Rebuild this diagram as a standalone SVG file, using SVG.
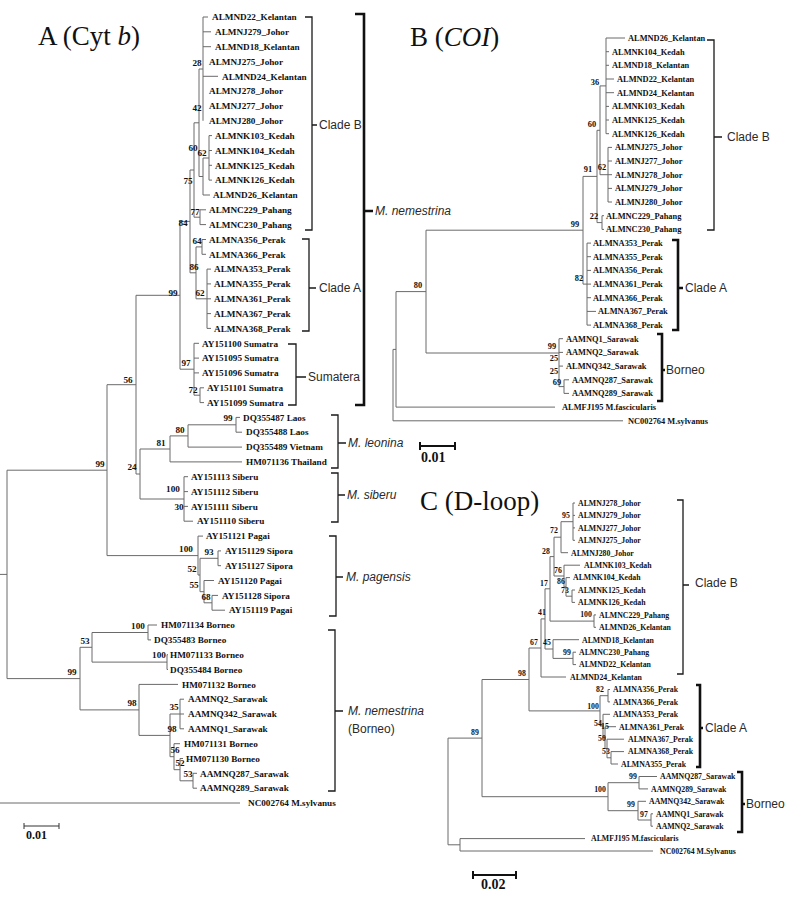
<svg xmlns="http://www.w3.org/2000/svg" width="785" height="898" viewBox="0 0 785 898">
<style>
.bg{fill:#fff}
.e{fill:none;stroke:#6a6a6a;stroke-width:1}
.br{fill:none;stroke:#1a1a1a;stroke-width:1.3}
.bk{fill:none;stroke:#111;stroke-width:2.6}
.sb{fill:none;stroke:#333;stroke-width:1}
.sbk{fill:none;stroke:#111;stroke-width:2}
text{font-family:"Liberation Serif","Times New Roman",serif;fill:#111}
.a{font-size:9.2px;font-weight:bold}
.b{font-size:8.4px;font-weight:bold}
.c{font-size:7.8px;font-weight:bold}
.n{text-anchor:middle}
.lab{font-family:"Liberation Sans",Arial,sans-serif;font-size:12px;fill:#2a2a2a}
.it{font-style:italic}
.ttl{font-size:27px}
</style>
<rect class="bg" width="785" height="898"/>

<text class="ttl" x="38" y="45">A (Cyt <tspan class="it">b</tspan>)</text>
<text class="ttl" x="410" y="46">B (<tspan class="it">COI</tspan>)</text>
<text class="ttl" x="420" y="510">C (D-loop)</text>

<g id="connectors">
<path class="e" d="M203,17V120.8M203,17H208M203,31.8H211M203,46.7H211M203,76.3H218
M209,135.6V180.1M209,135.6H212M209,150.5H212M209,165.3H212M209,180.1H212
M203,158V195M203,158H209M203,195H210
M199,69V176.5M199,69H203M199,176.5H203
M200,209.8V224.6M200,209.8H206M200,224.6H206
M194,122.8V217.2M194,122.8H199M194,217.2H200
M202,239.5V254.3M202,239.5H206M202,254.3H206
M207,269.1V328.4M207,269.1H211M207,283.9H211M207,298.8H211M207,313.6H211M207,328.4H211
M196,246.9V298.8M196,246.9H202M196,298.8H207
M190,170V272.8M190,170H194M190,272.8H196
M200,387.8V402.6M200,387.8H204M200,402.6H204
M194,343.3V395.2M194,343.3H199M194,358.1H199M194,372.9H199M194,395.2H200
M180,221.4V369.2M180,221.4H190M180,369.2H194
M236,417.4V432.2M236,417.4H240M236,432.2H242
M188,424.8V447.1M188,424.8H236M188,447.1H242
M170,435.9V461.9M170,435.9H188M170,461.9H242
M184,476.7V521.2M184,476.7H188M184,491.6H188M184,506.4H188M184,521.2H193
M140,449V499M140,449H170M140,499H184
M136,295.3V474M136,295.3H180M136,474H140
M212,595.4V610.2M212,595.4H218M212,610.2H225
M204,580.5V602.8M204,580.5H214M204,602.8H212
M218,550.9V565.7M218,550.9H221M218,565.7H221
M200,558.3V591.7M200,558.3H218M200,591.7H204
M198,536.1V575M198,536.1H203M198,575H200
M107,384.7V555.6M107,384.7H136M107,555.6H198
M148,625V639.9M148,625H157M148,639.9H151
M167,654.7V669.5M167,654.7H168M167,669.5H168
M92,632.5V662.1M92,632.5H148M92,662.1H167
M180,699.2V728.8M180,699.2H184M180,714H184M180,728.8H184
M193,773.3V788.2M193,773.3H197M193,788.2H197
M180,758.5V780.8M180,758.5H183M180,780.8H193
M174,743.7V769.7M174,743.7H180M174,769.7H180
M170,714V756.7M170,714H180M170,756.7H174
M139,684.4V735.4M139,684.4H178M139,735.4H170
M80,647.3V709.9M80,647.3H92M80,709.9H139
M7,470.2V678.6M7,470.2H107M7,678.6H80M0,574.4H7
M0,803H240"/>
<path class="e" d="M606,38V133.7M606,38H625M606,51.7H609M606,65.3H609M606,79H614M606,92.7H614M606,106.4H609M606,120H609M606,133.7H609
M608,147.4V202M608,147.4H612M608,161H612M608,174.7H612M608,188.4H612M608,202H612
M600,85.9V174.7M600,85.9H606M600,174.7H608
M602,215.7V229.4M602,215.7H604M602,229.4H604
M597,130.3V222.6M597,130.3H600M597,222.6H602
M587,243.1V325.1M587,243.1H591M587,256.7H591M587,270.4H591M587,284.1H591M587,297.7H591M587,311.4H596M587,325.1H591
M583,176.4V284.1M583,176.4H597M583,284.1H587
M564,379.8V393.4M564,379.8H569M564,393.4H569
M559,338.7V386.6M559,338.7H563M559,352.4H563M559,366.1H563M559,386.6H564
M426,230.2V353M426,230.2H583M426,353H559
M396,291.6V407.1M396,291.6H426M396,407.1H555
M393,349.4V420.8M393,349.4H396M393,420.8H623"/>
<path class="e" d="M573,503V540.3M573,503H575M573,515.4H575M573,527.9H575M573,540.3H575
M561,521.7V552.7M561,521.7H573M561,552.7H568
M572,590V602.4M572,590H575M572,602.4H575
M566,577.6V596.2M566,577.6H570M566,596.2H572
M564,565.2V586.9M564,565.2H580M564,586.9H566
M554,537.2V576M554,537.2H561M554,576H564
M594,614.9V627.3M594,614.9H596M594,627.3H596
M550,556.6V621.1M550,556.6H554M550,621.1H594
M573,652.2V664.6M573,652.2H576M573,664.6H576
M553,639.7V658.4M553,639.7H579M553,658.4H573
M545,588.8V649M545,588.8H550M545,649H553
M541,618.9V677M541,618.9H545M541,677H566
M608,689.5V701.9M608,689.5H610M608,701.9H610
M611,751.6V764M611,751.6H624M611,764H618
M607,739.2V757.8M607,739.2H624M607,757.8H611
M605,726.7V748.5M605,726.7H616M605,748.5H607
M603,714.3V737.6M603,714.3H610M603,737.6H605
M600,695.7V726M600,695.7H608M600,726H603
M529,648V710.9M529,648H541M529,710.9H600
M639,776.5V788.9M639,776.5H657M639,788.9H648
M651,813.8V826.2M651,813.8H653M651,826.2H653
M638,801.3V820M638,801.3H646M638,820H651
M608,782.7V810.7M608,782.7H639M608,810.7H638
M482,679.5V796.7M482,679.5H529M482,796.7H608
M460,838.6V851M460,838.6H585M460,851H653
M448,738.1V844.8M448,738.1H482M448,844.8H460"/>
</g>

<g id="brackets">
<path class="br" d="M305,17H312V230H305M312,125H317"/>
<path class="br" d="M302,239H309V331H302M309,288H316"/>
<path class="br" d="M288,344H296V405H288M296,377H306"/>
<path class="bk" d="M355,14H364V405H355M364,211H373"/>
<path class="br" d="M331,415H338V468H331M338,443H346"/>
<path class="br" d="M331,473H338V522H331M338,495H345"/>
<path class="br" d="M329,536H336V616H329M336,577H343"/>
<path class="br" d="M328,630H335V791H328M335,711H343"/>
<path class="br" d="M707,40H714V230H707M714,137H722"/>
<path class="bk" d="M672,240H678V330H672M678,288H683"/>
<path class="bk" d="M657,334H662V401H657M662,370H665"/>
<path class="br" d="M677,500H683V674H677M683,585H689"/>
<path class="bk" d="M696,685H700V767H696M700,728H703"/>
<path class="bk" d="M737,772H742V832H737M742,804H745"/>
</g>

<g id="group-labels">
<text class="lab" x="319" y="129">Clade B</text>
<text class="lab" x="319" y="292">Clade A</text>
<text class="lab" x="308" y="381">Sumatera</text>
<text class="lab it" x="375" y="215">M. nemestrina</text>
<text class="lab it" x="348" y="447">M. leonina</text>
<text class="lab it" x="347" y="499">M. siberu</text>
<text class="lab it" x="346" y="581">M. pagensis</text>
<text class="lab it" x="348" y="715">M. nemestrina</text>
<text class="lab" x="348" y="733">(Borneo)</text>
<text class="lab" x="727" y="141">Clade B</text>
<text class="lab" x="685" y="292">Clade A</text>
<text class="lab" x="666" y="374">Borneo</text>
<text class="lab" x="695" y="587">Clade B</text>
<text class="lab" x="705" y="732">Clade A</text>
<text class="lab" x="746" y="808">Borneo</text>
</g>

<g id="scales">
<path class="sb" d="M24,826H59M24,823V829M59,823V829"/>
<text class="a" x="26" y="839" style="font-size:12px">0.01</text>
<path class="sbk" d="M420,446H455M420,442V450M455,442V450"/>
<text class="a" x="421" y="462" style="font-size:14px">0.01</text>
<path class="sbk" d="M473,875H516M473,871V879M516,871V879"/>
<text class="a" x="481" y="889" style="font-size:14px">0.02</text>
</g>

<g id="panelA-leaves" class="a">
<g id="A0"><text x="212" y="20.2">ALMND22_Kelantan</text></g>
<g id="A1"><text x="215" y="35">ALMNJ279_Johor</text></g>
<g id="A2"><text x="215" y="49.9">ALMND18_Kelantan</text></g>
<g id="A3"><text x="209" y="64.7">ALMNJ275_Johor</text></g>
<g id="A4"><text x="222" y="79.5">ALMND24_Kelantan</text></g>
<g id="A5"><text x="209" y="94.4">ALMNJ278_Johor</text></g>
<g id="A6"><text x="209" y="109.2">ALMNJ277_Johor</text></g>
<g id="A7"><text x="209" y="124">ALMNJ280_Johor</text></g>
<g id="A8"><text x="215" y="138.8">ALMNK103_Kedah</text></g>
<g id="A9"><text x="215" y="153.7">ALMNK104_Kedah</text></g>
<g id="A10"><text x="215" y="168.5">ALMNK125_Kedah</text></g>
<g id="A11"><text x="215" y="183.3">ALMNK126_Kedah</text></g>
<g id="A12"><text x="213" y="198.2">ALMND26_Kelantan</text></g>
<g id="A13"><text x="209" y="213">ALMNC229_Pahang</text></g>
<g id="A14"><text x="209" y="227.8">ALMNC230_Pahang</text></g>
<g id="A15"><text x="209" y="242.7">ALMNA356_Perak</text></g>
<g id="A16"><text x="209" y="257.5">ALMNA366_Perak</text></g>
<g id="A17"><text x="214" y="272.3">ALMNA353_Perak</text></g>
<g id="A18"><text x="214" y="287.1">ALMNA355_Perak</text></g>
<g id="A19"><text x="214" y="302">ALMNA361_Perak</text></g>
<g id="A20"><text x="214" y="316.8">ALMNA367_Perak</text></g>
<g id="A21"><text x="214" y="331.6">ALMNA368_Perak</text></g>
<g id="A22"><text x="202" y="346.5">AY151100 Sumatra</text></g>
<g id="A23"><text x="202" y="361.3">AY151095 Sumatra</text></g>
<g id="A24"><text x="202" y="376.1">AY151096 Sumatra</text></g>
<g id="A25"><text x="207" y="391">AY151101 Sumatra</text></g>
<g id="A26"><text x="207" y="405.8">AY151099 Sumatra</text></g>
<g id="A27"><text x="243" y="420.6">DQ355487 Laos</text></g>
<g id="A28"><text x="246" y="435.4">DQ355488 Laos</text></g>
<g id="A29"><text x="246" y="450.3">DQ355489 Vietnam</text></g>
<g id="A30"><text x="246" y="465.1">HM071136 Thailand</text></g>
<g id="A31"><text x="191" y="479.9">AY151113 Siberu</text></g>
<g id="A32"><text x="191" y="494.8">AY151112 Siberu</text></g>
<g id="A33"><text x="191" y="509.6">AY151111 Siberu</text></g>
<g id="A34"><text x="197" y="524.4">AY151110 Siberu</text></g>
<g id="A35"><text x="206" y="539.3">AY151121 Pagai</text></g>
<g id="A36"><text x="225" y="554.1">AY151129 Sipora</text></g>
<g id="A37"><text x="225" y="568.9">AY151127 Sipora</text></g>
<g id="A38"><text x="218" y="583.7">AY151120 Pagai</text></g>
<g id="A39"><text x="222" y="598.6">AY151128 Sipora</text></g>
<g id="A40"><text x="229" y="613.4">AY151119 Pagai</text></g>
<g id="A41"><text x="161" y="628.2">HM071134 Borneo</text></g>
<g id="A42"><text x="154" y="643.1">DQ355483 Borneo</text></g>
<g id="A43"><text x="170" y="657.9">HM071133 Borneo</text></g>
<g id="A44"><text x="170" y="672.7">DQ355484 Borneo</text></g>
<g id="A45"><text x="182" y="687.6">HM071132 Borneo</text></g>
<g id="A46"><text x="188" y="702.4">AAMNQ2_Sarawak</text></g>
<g id="A47"><text x="188" y="717.2">AAMNQ342_Sarawak</text></g>
<g id="A48"><text x="188" y="732">AAMNQ1_Sarawak</text></g>
<g id="A49"><text x="184" y="746.9">HM071131 Borneo</text></g>
<g id="A50"><text x="186" y="761.7">HM071130 Borneo</text></g>
<g id="A51"><text x="200" y="776.5">AAMNQ287_Sarawak</text></g>
<g id="A52"><text x="200" y="791.4">AAMNQ289_Sarawak</text></g>
<g id="A53"><text x="248" y="806.2">NC002764 M.sylvanus</text></g>
</g>

<g id="panelA-support" class="a n">
<text x="197" y="66">28</text><text x="197" y="111">42</text><text x="193" y="151">60</text><text x="202" y="156">62</text>
<text x="188" y="184">75</text><text x="195" y="215">77</text><text x="183" y="226">84</text><text x="197" y="244">64</text>
<text x="194" y="270">86</text><text x="200" y="296">62</text><text x="173" y="296">99</text><text x="186" y="366">97</text>
<text x="193" y="393">72</text><text x="128" y="383">56</text><text x="228" y="421">99</text><text x="180" y="433">80</text>
<text x="161" y="446">81</text><text x="132" y="470">24</text><text x="173" y="492">100</text><text x="179" y="510">30</text>
<text x="100" y="467">99</text><text x="186" y="552">100</text><text x="209" y="555">93</text><text x="192" y="572">52</text>
<text x="194" y="588">55</text><text x="206" y="600">68</text><text x="138" y="629">100</text><text x="85" y="644">53</text>
<text x="159" y="658">100</text><text x="72" y="675">99</text><text x="132" y="706">98</text><text x="174" y="710">35</text>
<text x="172" y="732">98</text><text x="175" y="753">56</text><text x="180" y="766">52</text><text x="188" y="777">53</text>
</g>

<g id="panelB-leaves" class="b">
<g id="B0"><text x="628" y="41">ALMND26_Kelantan</text></g>
<g id="B1"><text x="612" y="54.7">ALMNK104_Kedah</text></g>
<g id="B2"><text x="612" y="68.3">ALMND18_Kelantan</text></g>
<g id="B3"><text x="617" y="82">ALMND22_Kelantan</text></g>
<g id="B4"><text x="617" y="95.7">ALMND24_Kelantan</text></g>
<g id="B5"><text x="612" y="109.4">ALMNK103_Kedah</text></g>
<g id="B6"><text x="612" y="123">ALMNK125_Kedah</text></g>
<g id="B7"><text x="612" y="136.7">ALMNK126_Kedah</text></g>
<g id="B8"><text x="615" y="150.4">ALMNJ275_Johor</text></g>
<g id="B9"><text x="615" y="164">ALMNJ277_Johor</text></g>
<g id="B10"><text x="615" y="177.7">ALMNJ278_Johor</text></g>
<g id="B11"><text x="615" y="191.4">ALMNJ279_Johor</text></g>
<g id="B12"><text x="615" y="205">ALMNJ280_Johor</text></g>
<g id="B13"><text x="606" y="218.7">ALMNC229_Pahang</text></g>
<g id="B14"><text x="606" y="232.4">ALMNC230_Pahang</text></g>
<g id="B15"><text x="593" y="246.1">ALMNA353_Perak</text></g>
<g id="B16"><text x="593" y="259.7">ALMNA355_Perak</text></g>
<g id="B17"><text x="593" y="273.4">ALMNA356_Perak</text></g>
<g id="B18"><text x="593" y="287.1">ALMNA361_Perak</text></g>
<g id="B19"><text x="593" y="300.7">ALMNA366_Perak</text></g>
<g id="B20"><text x="598" y="314.4">ALMNA367_Perak</text></g>
<g id="B21"><text x="593" y="328.1">ALMNA368_Perak</text></g>
<g id="B22"><text x="566" y="341.7">AAMNQ1_Sarawak</text></g>
<g id="B23"><text x="566" y="355.4">AAMNQ2_Sarawak</text></g>
<g id="B24"><text x="566" y="369.1">ALMNQ342_Sarawak</text></g>
<g id="B25"><text x="572" y="382.8">AAMNQ287_Sarawak</text></g>
<g id="B26"><text x="572" y="396.4">AAMNQ289_Sarawak</text></g>
<g id="B27"><text x="562" y="410.1">ALMFJ195 M.fascicularis</text></g>
<g id="B28"><text x="628" y="423.8">NC002764 M.sylvanus</text></g>
</g>

<g id="panelB-support" class="b n">
<text x="595" y="85">36</text><text x="592" y="127">60</text><text x="588" y="172">91</text><text x="602" y="170">62</text>
<text x="594" y="219">22</text><text x="575" y="227">99</text><text x="579" y="281">82</text><text x="418" y="288">80</text>
<text x="552" y="349">99</text><text x="554" y="361">25</text><text x="554" y="374">25</text><text x="557" y="385">69</text>
</g>

<g id="panelC-leaves" class="c">
<g id="C0"><text x="578" y="505.8">ALMNJ278_Johor</text></g>
<g id="C1"><text x="578" y="518.2">ALMNJ279_Johor</text></g>
<g id="C2"><text x="578" y="530.7">ALMNJ277_Johor</text></g>
<g id="C3"><text x="578" y="543.1">ALMNJ275_Johor</text></g>
<g id="C4"><text x="571" y="555.5">ALMNJ280_Johor</text></g>
<g id="C5"><text x="584" y="568">ALMNK103_Kedah</text></g>
<g id="C6"><text x="573" y="580.4">ALMNK104_Kedah</text></g>
<g id="C7"><text x="578" y="592.8">ALMNK125_Kedah</text></g>
<g id="C8"><text x="578" y="605.2">ALMNK126_Kedah</text></g>
<g id="C9"><text x="599" y="617.7">ALMNC229_Pahang</text></g>
<g id="C10"><text x="599" y="630.1">ALMND26_Kelantan</text></g>
<g id="C11"><text x="582" y="642.5">ALMND18_Kelantan</text></g>
<g id="C12"><text x="579" y="655">ALMNC230_Pahang</text></g>
<g id="C13"><text x="579" y="667.4">ALMND22_Kelantan</text></g>
<g id="C14"><text x="570" y="679.8">ALMND24_Kelantan</text></g>
<g id="C15"><text x="613" y="692.3">ALMNA356_Perak</text></g>
<g id="C16"><text x="613" y="704.7">ALMNA366_Perak</text></g>
<g id="C17"><text x="613" y="717.1">ALMNA353_Perak</text></g>
<g id="C18"><text x="619" y="729.5">ALMNA361_Perak</text></g>
<g id="C19"><text x="628" y="742">ALMNA367_Perak</text></g>
<g id="C20"><text x="628" y="754.4">ALMNA368_Perak</text></g>
<g id="C21"><text x="621" y="766.8">ALMNA355_Perak</text></g>
<g id="C22"><text x="660" y="779.3">AAMNQ287_Sarawak</text></g>
<g id="C23"><text x="651" y="791.7">AAMNQ289_Sarawak</text></g>
<g id="C24"><text x="649" y="804.1">AAMNQ342_Sarawak</text></g>
<g id="C25"><text x="656" y="816.6">AAMNQ1_Sarawak</text></g>
<g id="C26"><text x="656" y="829">AAMNQ2_Sarawak</text></g>
<g id="C27"><text x="591" y="841.4">ALMFJ195 M.fascicularis</text></g>
<g id="C28"><text x="660" y="853.8">NC002764 M.Sylvanus</text></g>
</g>

<g id="panelC-support" class="c n">
<text x="566" y="518">95</text><text x="554" y="533">72</text><text x="546" y="554">28</text><text x="558" y="573">76</text>
<text x="561" y="584">86</text><text x="544" y="586">17</text><text x="565" y="593">73</text><text x="586" y="617">100</text>
<text x="542" y="615">41</text><text x="534" y="645">67</text><text x="547" y="645">45</text><text x="567" y="655">99</text>
<text x="522" y="676">98</text><text x="600" y="692">82</text><text x="593" y="709">100</text><text x="598" y="726">54</text>
<text x="605" y="729">15</text><text x="602" y="741">50</text><text x="606" y="754">53</text><text x="475" y="735">89</text>
<text x="633" y="779">99</text><text x="600" y="792">100</text><text x="631" y="807">99</text><text x="644" y="817">97</text>
</g>
</svg>
